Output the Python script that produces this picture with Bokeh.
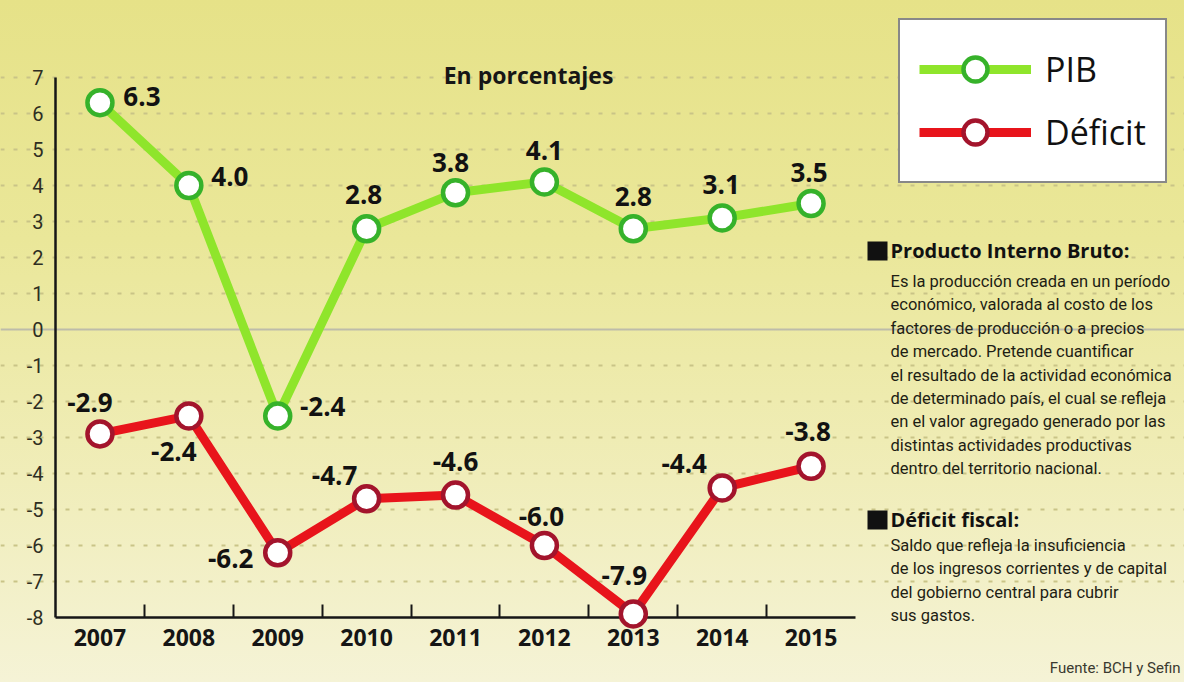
from bokeh.plotting import figure
from bokeh.models import (Range1d, LinearAxis, FixedTicker, Grid, Label, Legend,
                          LegendItem, ColumnDataSource, BoxAnnotation)
from bokeh.embed import file_html
from bokeh.resources import INLINE
from bokeh.core.properties import value

# ---------------- data ----------------
YEARS = ["2007", "2008", "2009", "2010", "2011", "2012", "2013", "2014", "2015"]
PIB = [6.3, 4.0, -2.4, 2.8, 3.8, 4.1, 2.8, 3.1, 3.5]
DEFICIT = [-2.9, -2.4, -6.2, -4.7, -4.6, -6.0, -7.9, -4.4, -3.8]
Y_TICKS = list(range(-8, 8))
SERIES_NAMES = ["PIB", "Déficit"]
TITLE = "En porcentajes"
PIB_HEAD = "Producto Interno Bruto:"
PIB_BODY = [
    "Es la producción creada en un período",
    "económico, valorada al costo de los",
    "factores de producción o a precios",
    "de mercado. Pretende cuantificar",
    "el resultado de la actividad económica",
    "de determinado país, el cual se refleja",
    "en el valor agregado generado por las",
    "distintas actividades productivas",
    "dentro del territorio nacional.",
]
DEF_HEAD = "Déficit fiscal:"
DEF_BODY = [
    "Saldo que refleja la insuficiencia",
    "de los ingresos corrientes y de capital",
    "del gobierno central para cubrir",
    "sus gastos.",
]
SOURCE = "Fuente: BCH y Sefin"

# ---------------- label placement (px offsets, style only) ----------------
PIB_DX = [42, 41, 45, -3, -5, 0, 0, -1, -2]
PIB_DY = [-6, -9, -9, -34, -30, -31, -32, -33, -31]
DEF_DX = [-10, -15, -47, -32, 0, -3, -9, -38, -3]
DEF_DY = [-31, 36, 6, -23, -34, -29, -38, -24, -35]

W, H = 1184, 682
idx = list(range(len(YEARS)))

p = figure(width=W, height=H, output_backend="svg", toolbar_location=None,
           x_range=Range1d(-1.1187, 12.201), y_range=Range1d(-9.8056, 9.1389),
           x_axis_location=None, y_axis_location=None,
           min_border_left=0, min_border_right=0, min_border_top=0, min_border_bottom=0)
p.outline_line_color = None
p.border_fill_color = None
p.background_fill_color = None
p.grid.visible = False
p.styles = {"background-image": "linear-gradient(180deg, #e6e288 0%, #eae799 35%, #f0edb9 70%, #f5f3d6 100%)"}

# grid
grid = Grid(dimension=1, ticker=FixedTicker(ticks=[t for t in Y_TICKS if t not in (0, -8)]),
            bounds=(-0.5, 8.5), grid_line_color="#c9c487", grid_line_width=2,
            grid_line_dash="4 9")
p.add_layout(grid)
zero = Grid(dimension=1, ticker=FixedTicker(ticks=[0]), bounds=(-0.5, 8.5),
            grid_line_color="#bdbcaa", grid_line_width=2)
p.add_layout(zero)

# axes
xaxis = LinearAxis(ticker=FixedTicker(ticks=idx, minor_ticks=[i + 0.5 for i in idx[:-1]]),
                   fixed_location=-8, bounds=(-0.5, 8.5),
                   major_label_overrides={i: y for i, y in enumerate(YEARS)})
xaxis.axis_line_color = "#161616"
xaxis.axis_line_width = 2.5
xaxis.major_tick_line_color = None
xaxis.major_tick_in = 0
xaxis.major_tick_out = 0
xaxis.minor_tick_in = 13
xaxis.minor_tick_out = 0
xaxis.minor_tick_line_color = "#161616"
xaxis.minor_tick_line_width = 2
xaxis.major_label_text_font = "Open Sans"
xaxis.major_label_text_font_style = "bold"
xaxis.major_label_text_font_size = "23px"
xaxis.major_label_text_color = "#151515"
xaxis.major_label_standoff = 12
p.add_layout(xaxis, "below")

yaxis = LinearAxis(ticker=FixedTicker(ticks=Y_TICKS), fixed_location=-0.5, bounds=(-8, 7),
                   major_label_overrides={t: str(t) for t in Y_TICKS})
yaxis.axis_line_color = "#161616"
yaxis.axis_line_width = 2.5
yaxis.major_tick_line_color = None
yaxis.major_tick_in = 0
yaxis.major_tick_out = 0
yaxis.minor_tick_line_color = None
yaxis.major_label_text_font = "Roboto"
yaxis.major_label_text_font_size = "20px"
yaxis.major_label_text_color = "#2e2e22"
yaxis.major_label_standoff = 12
p.add_layout(yaxis, "left")

# series
pib_line = p.line(idx, PIB, line_width=9, line_color="#8fe52b")
pib_pts = p.scatter(idx, PIB, marker="circle", size=25, fill_color="white",
                    line_color="#36b22a", line_width=4.5, level="overlay")
def_line = p.line(idx, DEFICIT, line_width=9, line_color="#e8141b")
def_pts = p.scatter(idx, DEFICIT, marker="circle", size=25, fill_color="white",
                    line_color="#a3142c", line_width=4.5, level="overlay")

# value labels
src = ColumnDataSource(dict(
    x=idx + idx,
    y=PIB + DEFICIT,
    text=[f"{v:.1f}" for v in PIB + DEFICIT],
    dx=PIB_DX + DEF_DX,
    dy=PIB_DY + DEF_DY,
))
p.text(x="x", y="y", text="text", x_offset="dx", y_offset="dy", source=src,
       text_font=value("Open Sans"), text_font_style="bold", text_font_size="26px",
       text_align="center", text_baseline="middle", text_color="#121212", level="overlay")

# title
p.add_layout(Label(x=528, y=608, x_units="screen", y_units="screen", text=TITLE,
                   text_font="Open Sans", text_font_style="bold", text_font_size="23px",
                   text_align="center", text_baseline="middle", text_color="#161616"))

# legend
legend = Legend(items=[LegendItem(label=SERIES_NAMES[0], renderers=[pib_line, pib_pts]),
                       LegendItem(label=SERIES_NAMES[1], renderers=[def_line, def_pts])],
                location=(898, 499))
legend.border_line_color = "#111111"
legend.border_line_width = 2
legend.background_fill_color = "white"
legend.background_fill_alpha = 1
legend.padding = 19
legend.spacing = 3
legend.margin = 0
legend.glyph_width = 112
legend.glyph_height = 60
legend.label_standoff = 14
legend.label_text_font = "Open Sans"
legend.label_text_font_size = "34px"
legend.label_text_color = "#111111"
legend.label_height = 60
p.add_layout(legend)

# side notes
def side_text(x, y, text, size="16.5px", bold=False, align="left", color="#1e1e14", font="Roboto"):
    p.add_layout(Label(x=x, y=y, x_units="screen", y_units="screen", text=text,
                       text_font=font, text_font_style="bold" if bold else "normal",
                       text_font_size=size, text_align=align, text_baseline="middle",
                       text_color=color))

for top_ref in (241, 510):
    p.add_layout(BoxAnnotation(left=867, right=887, top=H - top_ref, bottom=H - top_ref - 19,
                               left_units="screen", right_units="screen",
                               top_units="screen", bottom_units="screen",
                               fill_color="#111111", fill_alpha=1, line_color=None))

side_text(890, H - 250, PIB_HEAD, size="20px", bold=True, font="Open Sans", color="#111111")
for i, line in enumerate(PIB_BODY):
    side_text(890, H - (281 + i * 23.4), line)
side_text(890, H - 519, DEF_HEAD, size="20px", bold=True, font="Open Sans", color="#111111")
for i, line in enumerate(DEF_BODY):
    side_text(890, H - (545 + i * 23.4), line)
side_text(1180, H - 667, SOURCE, size="15px", align="right", color="#3a3a30")

open("out.html", "w").write(file_html(p, INLINE))
